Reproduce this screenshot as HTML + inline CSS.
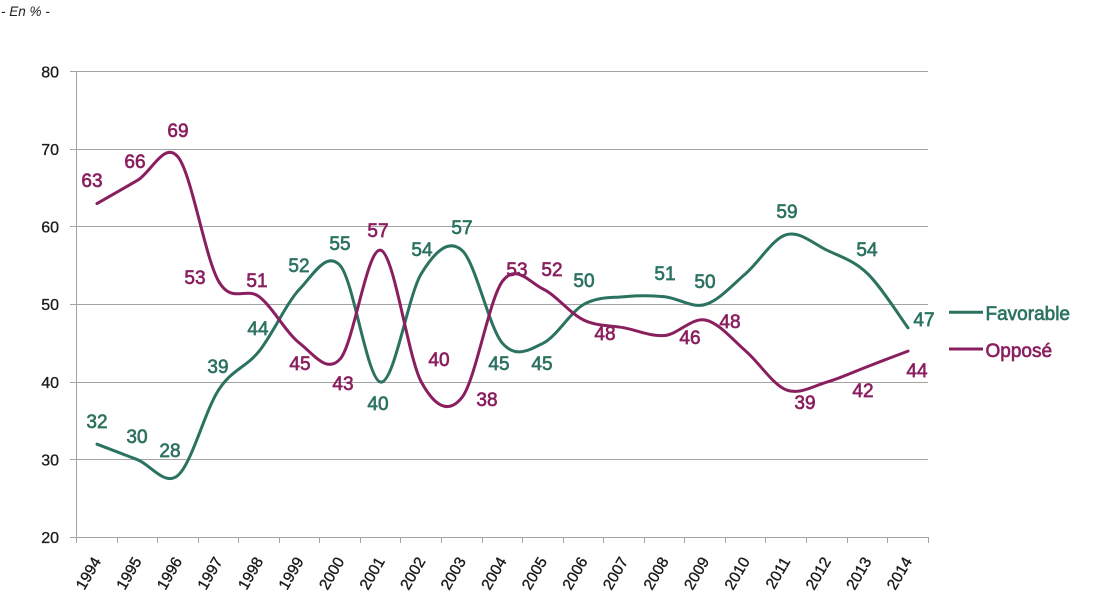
<!DOCTYPE html>
<html>
<head>
<meta charset="utf-8">
<style>
  html, body { margin:0; padding:0; background:#ffffff; }
  svg { display:block; }
  text { font-family: "Liberation Sans", "DejaVu Sans", sans-serif; }
  .ax { font-size:16px; fill:#1a1a1a; stroke:#1a1a1a; stroke-width:0.3; }
  .yr { font-size:15.5px; fill:#1a1a1a; stroke:#1a1a1a; stroke-width:0.35; }
  .fv { font-size:19px; fill:#2C7260; stroke:#2C7260; stroke-width:0.65; }
  .op { font-size:19px; fill:#8A1F5F; stroke:#8A1F5F; stroke-width:0.65; }
</style>
</head>
<body>
<svg width="1101" height="613" viewBox="0 0 1101 613" xmlns="http://www.w3.org/2000/svg">
  <rect width="1101" height="613" fill="#ffffff"/>
  <text x="1" y="16" font-size="13.5" font-style="italic" fill="#222">- En % -</text>

  <!-- gridlines -->
  <g stroke="#A3A3A3" stroke-width="1" shape-rendering="crispEdges">
    <line x1="70" y1="71.5" x2="928" y2="71.5"/>
    <line x1="70" y1="149.5" x2="928" y2="149.5"/>
    <line x1="70" y1="226.5" x2="928" y2="226.5"/>
    <line x1="70" y1="304.5" x2="928" y2="304.5"/>
    <line x1="70" y1="382.5" x2="928" y2="382.5"/>
    <line x1="70" y1="459.5" x2="928" y2="459.5"/>
    <line x1="70" y1="537.5" x2="928.5" y2="537.5"/>
    <line x1="76.5" y1="71.5" x2="76.5" y2="537.5"/>
    <!-- x ticks -->
    <line x1="76.5" y1="537" x2="76.5" y2="543"/>
    <line x1="117.5" y1="537" x2="117.5" y2="543"/>
    <line x1="157.5" y1="537" x2="157.5" y2="543"/>
    <line x1="198.5" y1="537" x2="198.5" y2="543"/>
    <line x1="238.5" y1="537" x2="238.5" y2="543"/>
    <line x1="279.5" y1="537" x2="279.5" y2="543"/>
    <line x1="319.5" y1="537" x2="319.5" y2="543"/>
    <line x1="360.5" y1="537" x2="360.5" y2="543"/>
    <line x1="400.5" y1="537" x2="400.5" y2="543"/>
    <line x1="441.5" y1="537" x2="441.5" y2="543"/>
    <line x1="482.5" y1="537" x2="482.5" y2="543"/>
    <line x1="522.5" y1="537" x2="522.5" y2="543"/>
    <line x1="563.5" y1="537" x2="563.5" y2="543"/>
    <line x1="603.5" y1="537" x2="603.5" y2="543"/>
    <line x1="644.5" y1="537" x2="644.5" y2="543"/>
    <line x1="684.5" y1="537" x2="684.5" y2="543"/>
    <line x1="725.5" y1="537" x2="725.5" y2="543"/>
    <line x1="765.5" y1="537" x2="765.5" y2="543"/>
    <line x1="806.5" y1="537" x2="806.5" y2="543"/>
    <line x1="847.5" y1="537" x2="847.5" y2="543"/>
    <line x1="887.5" y1="537" x2="887.5" y2="543"/>
    <line x1="928.5" y1="537" x2="928.5" y2="543"/>
  </g>

  <!-- y axis labels -->
  <g class="ax" text-anchor="end">
    <text x="59" y="77.5">80</text>
    <text x="59" y="155">70</text>
    <text x="59" y="232.5">60</text>
    <text x="59" y="310">50</text>
    <text x="59" y="388">40</text>
    <text x="59" y="465.5">30</text>
    <text x="59" y="543">20</text>
  </g>

  <!-- x axis labels -->
  <g class="yr" text-anchor="end">
    <text transform="translate(101.5,561) rotate(-60)">1994</text>
    <text transform="translate(142,561) rotate(-60)">1995</text>
    <text transform="translate(182.6,561) rotate(-60)">1996</text>
    <text transform="translate(223.1,561) rotate(-60)">1997</text>
    <text transform="translate(263.7,561) rotate(-60)">1998</text>
    <text transform="translate(304.2,561) rotate(-60)">1999</text>
    <text transform="translate(344.8,561) rotate(-60)">2000</text>
    <text transform="translate(385.3,561) rotate(-60)">2001</text>
    <text transform="translate(425.9,561) rotate(-60)">2002</text>
    <text transform="translate(466.4,561) rotate(-60)">2003</text>
    <text transform="translate(507,561) rotate(-60)">2004</text>
    <text transform="translate(547.5,561) rotate(-60)">2005</text>
    <text transform="translate(588.1,561) rotate(-60)">2006</text>
    <text transform="translate(628.6,561) rotate(-60)">2007</text>
    <text transform="translate(669.2,561) rotate(-60)">2008</text>
    <text transform="translate(709.7,561) rotate(-60)">2009</text>
    <text transform="translate(750.3,561) rotate(-60)">2010</text>
    <text transform="translate(790.8,561) rotate(-60)">2011</text>
    <text transform="translate(831.4,561) rotate(-60)">2012</text>
    <text transform="translate(871.9,561) rotate(-60)">2013</text>
    <text transform="translate(912.5,561) rotate(-60)">2014</text>
  </g>

  <!-- Favorable series -->
  <path fill="none" stroke="#2C7260" stroke-width="3" stroke-linecap="round" stroke-linejoin="round"
    d="M97.0,444.2
       C103.8,446.8 124.0,454.5 137.5,459.7
       C151.0,464.9 164.6,486.9 178.1,475.2
       C191.6,463.6 205.1,410.6 218.6,389.9
       C232.1,369.2 245.7,367.9 259.2,351.1
       C272.7,334.2 286.2,303.2 299.7,289.0
       C313.2,274.8 326.8,250.2 340.3,265.7
       C353.8,281.2 367.3,380.8 380.8,382.1
       C394.3,383.4 407.9,295.4 421.4,273.5
       C434.9,251.5 448.4,238.5 461.9,250.2
       C475.4,261.8 489.0,327.8 502.5,343.3
       C516.0,358.8 529.5,349.8 543.0,343.3
       C556.5,336.8 570.1,312.3 583.6,304.5
       C597.1,296.7 610.6,298.0 624.1,296.7
       C637.6,295.4 651.2,295.4 664.7,296.7
       C678.2,298.0 691.7,308.4 705.2,304.5
       C718.7,300.6 732.3,285.1 745.8,273.5
       C759.3,261.8 772.8,238.5 786.3,234.7
       C799.8,230.8 813.4,243.7 826.9,250.2
       C840.4,256.6 853.9,260.5 867.4,273.5
       C880.9,286.4 901.2,318.7 908.0,327.8"/>

  <!-- Opposé series -->
  <path fill="none" stroke="#8A1F5F" stroke-width="3" stroke-linecap="round" stroke-linejoin="round"
    d="M97.0,203.6
       C103.8,199.7 124.0,188.1 137.5,180.3
       C151.0,172.6 164.6,140.2 178.1,157.1
       C191.6,173.9 205.1,257.9 218.6,281.2
       C232.1,304.5 245.7,286.4 259.2,296.7
       C272.7,307.1 286.2,333.0 299.7,343.3
       C313.2,353.6 326.8,374.3 340.3,358.8
       C353.8,343.3 367.3,246.3 380.8,250.2
       C394.3,254.1 407.9,357.5 421.4,382.1
       C434.9,406.7 448.4,414.4 461.9,397.6
       C475.4,380.8 489.0,299.3 502.5,281.2
       C516.0,263.1 529.5,282.5 543.0,289.0
       C556.5,295.4 570.1,313.6 583.6,320.0
       C597.1,326.5 610.6,325.2 624.1,327.8
       C637.6,330.4 651.2,336.8 664.7,335.5
       C678.2,334.2 691.7,317.4 705.2,320.0
       C718.7,322.6 732.3,339.4 745.8,351.1
       C759.3,362.7 772.8,384.7 786.3,389.9
       C799.8,395.0 813.4,386.0 826.9,382.1
       C840.4,378.2 853.9,371.8 867.4,366.6
       C880.9,361.4 901.2,353.6 908.0,351.1"/>

  <!-- Opposé labels -->
  <g class="op" text-anchor="middle">
    <text x="92" y="186.8">63</text>
    <text x="135" y="167.8">66</text>
    <text x="178" y="136.8">69</text>
    <text x="195" y="283.8">53</text>
    <text x="257" y="286.8">51</text>
    <text x="300" y="369.8">45</text>
    <text x="343" y="389.8">43</text>
    <text x="378" y="236.8">57</text>
    <text x="439" y="365.8">40</text>
    <text x="487" y="405.8">38</text>
    <text x="517" y="275.8">53</text>
    <text x="552" y="275.8">52</text>
    <text x="605" y="339.8">48</text>
    <text x="690" y="343.8">46</text>
    <text x="730" y="327.8">48</text>
    <text x="805" y="408.8">39</text>
    <text x="863" y="396.8">42</text>
    <text x="917" y="376.8">44</text>
  </g>

  <!-- Favorable labels -->
  <g class="fv" text-anchor="middle">
    <text x="97" y="427.8">32</text>
    <text x="137" y="442.8">30</text>
    <text x="170" y="456.8">28</text>
    <text x="218" y="372.8">39</text>
    <text x="258" y="334.8">44</text>
    <text x="299" y="271.8">52</text>
    <text x="340" y="249.8">55</text>
    <text x="378" y="409.8">40</text>
    <text x="422" y="255.8">54</text>
    <text x="462" y="233.8">57</text>
    <text x="499" y="369.8">45</text>
    <text x="542" y="369.8">45</text>
    <text x="584" y="286.8">50</text>
    <text x="665" y="279.8">51</text>
    <text x="705" y="287.8">50</text>
    <text x="787" y="217.8">59</text>
    <text x="867" y="255.8">54</text>
    <text x="924" y="325.8">47</text>
  </g>

  <!-- Legend -->
  <line x1="949" y1="312.3" x2="983" y2="312.3" stroke="#2C7260" stroke-width="3"/>
  <text class="fv" x="985.5" y="319.8">Favorable</text>
  <line x1="949" y1="349" x2="983" y2="349" stroke="#8A1F5F" stroke-width="3"/>
  <text class="op" x="985.5" y="356.8">Opposé</text>
</svg>
</body>
</html>
